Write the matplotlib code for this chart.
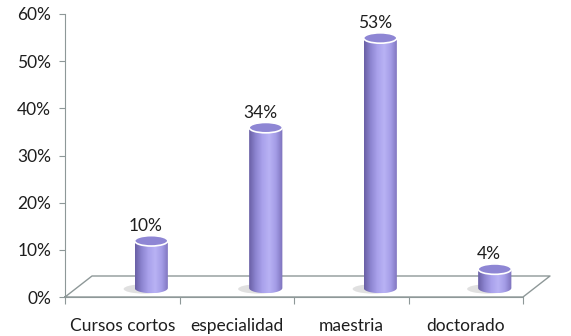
import numpy as np
import matplotlib
matplotlib.use("Agg")
import matplotlib.pyplot as plt
from matplotlib.patches import Ellipse, PathPatch
from matplotlib.path import Path
from matplotlib.colors import LinearSegmentedColormap
import matplotlib.transforms as mtransforms

categories = ["Cursos cortos", "especialidad", "maestria", "doctorado"]
values = [10, 34, 53, 4]
value_labels = ["10%", "34%", "53%", "4%"]
yticks = [0, 10, 20, 30, 40, 50, 60]

plt.rcParams["font.family"] = ["Lato", "DejaVu Sans"]

fig = plt.figure(figsize=(5.71, 3.36), dpi=100)
ax = fig.add_axes([65 / 571, 39 / 336, 458 / 571, 283 / 336])
ax.set_xlim(-0.5, len(categories) - 0.5)
ax.set_ylim(0, 60)

axis_col = "#8e9898"
text_col = "#1e1e1e"
fs = 12.5

# floor (3D base plane)
dx_b, dy_b = 27 / 458, 21 / 283
floor = [(0, 0), (1, 0), (1 + dx_b, dy_b), (dx_b, dy_b), (0, 0)]
fx, fy = zip(*floor)
ax.plot(fx, fy, transform=ax.transAxes, color=axis_col, lw=1.0,
        clip_on=False, zorder=1)

# depth offset for cylinders (pixels)
off = mtransforms.ScaledTranslation(29 / 100, 9 / 100, fig.dpi_scale_trans)
tr = ax.transData + off

cmap = LinearSegmentedColormap.from_list(
    "cyl", ["#6a60a6", "#8e86d2", "#aaa2ec", "#b8b2f4", "#a49ce6", "#7c72bc"])
grad = np.linspace(0, 1, 64).reshape(1, -1)

w = 0.29
eh = 2.2
theta = np.linspace(np.pi, 2 * np.pi, 40)

for i, v in enumerate(values):
    x0, x1 = i - w / 2, i + w / 2
    # soft shadow at base
    sh = Ellipse((i - 0.06, -0.2), w * 1.25, eh * 0.9, facecolor="#d4d4d4",
                 edgecolor="none", alpha=0.7, transform=tr, zorder=2)
    ax.add_patch(sh)
    # cylinder body outline
    verts = [(x0, v), (x0, 0)]
    verts += [(i + w / 2 * np.cos(t), eh / 2 * np.sin(t)) for t in theta]
    verts += [(x1, 0), (x1, v), (x0, v)]
    codes = [Path.MOVETO] + [Path.LINETO] * (len(verts) - 2) + [Path.CLOSEPOLY]
    body = PathPatch(Path(verts, codes), facecolor="none", edgecolor="none",
                     transform=tr, zorder=3)
    ax.add_patch(body)
    im = ax.imshow(grad, cmap=cmap, aspect="auto",
                   extent=(x0, x1, -eh / 2, v), zorder=3)
    im.set_transform(tr)
    im.set_clip_path(body)
    # top cap
    top = Ellipse((i, v), w, eh, facecolor="#8e86d4", edgecolor="white",
                  lw=1.2, transform=tr, zorder=4)
    ax.add_patch(top)
    ax.annotate(value_labels[i], (i, v), xycoords=tr, xytext=(-4, 5),
                textcoords="offset points", ha="center", va="bottom",
                fontsize=fs, color=text_col, zorder=5)

ax.set_xticks(np.arange(-0.5, len(categories)), minor=False)
ax.set_xticklabels([])
ax.set_xticks(np.arange(len(categories)), minor=True)
ax.set_xticklabels(categories, minor=True)
ax.tick_params(axis="x", which="major", length=5, color=axis_col, direction="out")
ax.tick_params(axis="x", which="minor", length=0, pad=15, labelsize=fs,
               labelcolor=text_col)

ax.set_yticks(yticks)
ax.set_yticklabels([f"{t}%" for t in yticks])
ax.tick_params(axis="y", length=4, color=axis_col, pad=6, labelsize=fs,
               labelcolor=text_col)

for s in ["top", "right"]:
    ax.spines[s].set_visible(False)
for s in ["left", "bottom"]:
    ax.spines[s].set_color(axis_col)
    ax.spines[s].set_zorder(1)
ax.patch.set_alpha(0)

fig.savefig("out.png", dpi=100)
